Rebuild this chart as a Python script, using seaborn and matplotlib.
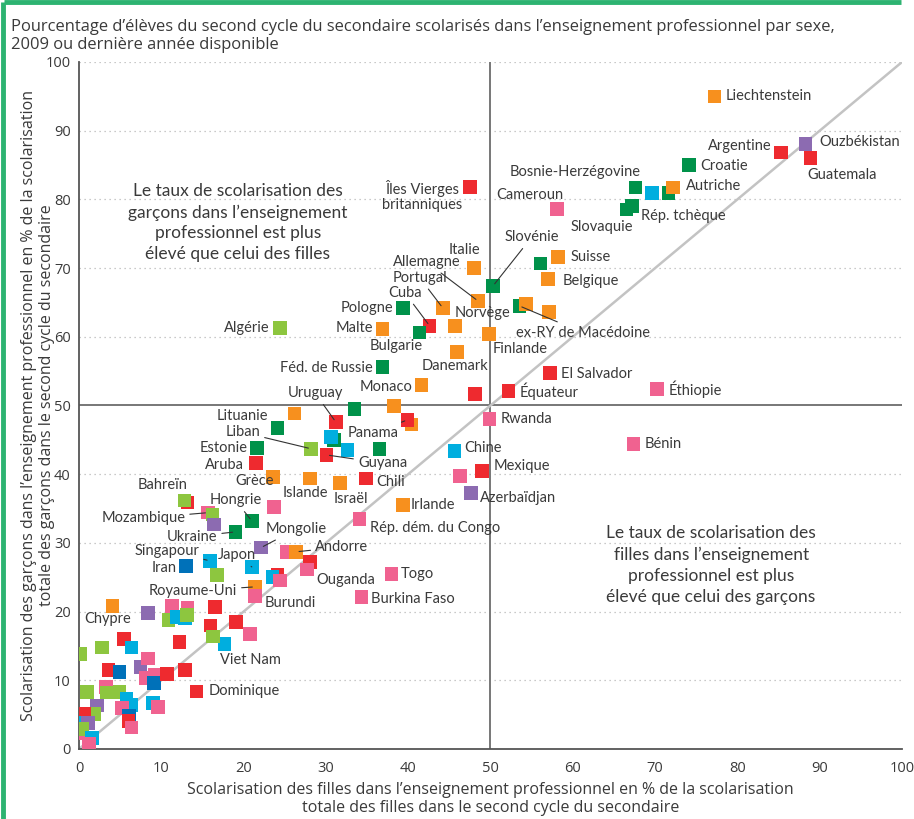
import matplotlib
matplotlib.use("Agg")
import matplotlib.pyplot as plt
import matplotlib.lines as mlines
import seaborn as sns
import pandas as pd

# ---------------- data ----------------
regions = ["Amérique latine et Caraïbes", "Amérique du Nord et Europe occidentale",
           "Europe centrale et orientale", "États arabes", "Asie de l'Est et Pacifique",
           "Asie du Sud et de l'Ouest", "Asie centrale", "Afrique subsaharienne"]
region_colors = ["#EE2A2F", "#F7901E", "#00924A", "#8DC63F", "#00AEDF", "#0071B9", "#8C6BB1", "#F06290"]
R, O, G, L, C, B, P, K = range(8)

countries = [
    "Liechtenstein", "Ouzbékistan", "Argentine", "Guatemala", "Croatie", "Bosnie-Herzégovine", "",
    "", "Autriche", "Slovaquie", "Rép. tchèque", "Cameroun", "Îles Vierges\nbritanniques", "Suisse", "",
    "Belgique", "Italie", "Slovénie", "Allemagne", "Portugal", "Cuba", "Pologne", "Malte", "Bulgarie", "",
    "Finlande", "Danemark", "Féd. de Russie", "Monaco", "", "Équateur", "El Salvador", "", "", "",
    "Uruguay", "Rwanda", "ex-RY de Macédoine", "Norvège", "", "Algérie", "Éthiopie", "Bénin",
    "", "Panama", "", "", "", "", "Liban", "Guyana", "Chili", "Islande", "Israël", "Irlande",
    "Rép. dém. du Congo", "Chine", "Mexique", "", "Azerbaïdjan", "Togo", "Burkina Faso",
    "", "Ouganda", "", "Andorre", "Lituanie", "Estonie", "Aruba", "Grèce", "", "Bahreïn", "Hongrie", "",
    "Mozambique", "", "", "Ukraine", "Mongolie", "Singapour", "Iran", "Japon", "", "", "", "",
    "Royaume-Uni", "Burundi", "Chypre",
    "", "", "", "", "", "", "", "", "", "", "", "Viet Nam", "", "", "", "", "", "", "",
    "", "", "", "", "", "", "", "", "Dominique", "", "", "", "", "", "", "", "", "", "", "",
    "", "", "", "", "", "", "", "", "", "",
]
girls = [
    77.2, 88.3, 85.3, 88.9, 74.1, 67.6, 69.6,
    71.6, 72.2, 66.5, 67.2, 58.1, 47.5, 58.2, 56.1,
    57.0, 48.0, 50.3, 48.5, 44.2, 42.6, 39.4, 36.9, 41.4, 45.7,
    49.8, 45.9, 36.9, 41.6, 48.1, 52.2, 57.2, 33.5, 38.3, 26.2,
    31.2, 49.9, 53.5, 54.3, 57.1, 24.4, 70.2, 67.4,
    40.4, 39.9, 31.0, 30.6, 32.6, 36.5, 28.2, 30.1, 34.9, 28.1, 31.7, 39.4,
    34.1, 45.6, 49.0, 46.3, 47.6, 38.0, 34.3,
    28.1, 27.7, 25.3, 26.4, 24.1, 21.6, 21.5, 23.6, 13.2, 12.8, 21.0, 23.7,
    15.7, 16.2, 16.4, 19.0, 22.1, 15.9, 13.0, 21.0, 16.8, 24.1, 23.5, 24.4,
    21.4, 21.4, 4.1,
    8.4, 11.3, 13.2, 10.9, 11.9, 12.9, 13.1, 16.5, 16.0, 19.1, 20.8, 17.7, 16.3, 12.2, 5.5, 6.4, 2.8, 0.2, 3.6,
    4.9, 7.5, 8.4, 9.2, 8.1, 9.1, 10.7, 12.9, 14.3, 1.0, 3.3, 3.4, 4.9, 5.8, 6.3, 5.2, 9.0, 9.6, 2.2, 1.8,
    6.1, 6.0, 6.4, 0.6, 0.5, 0.2, 1.1, 0.4, 1.6, 1.2,
]
boys = [
    95.0, 88.1, 86.8, 86.0, 85.0, 81.7, 80.9,
    80.9, 81.7, 78.5, 79.0, 78.6, 81.8, 71.6, 70.7,
    68.4, 70.0, 67.4, 65.2, 64.2, 61.6, 64.2, 61.1, 60.6, 61.6,
    60.4, 57.8, 55.6, 53.0, 51.7, 52.1, 54.7, 49.5, 49.9, 48.8,
    47.6, 48.0, 64.5, 64.8, 63.6, 61.3, 52.4, 44.4,
    47.2, 47.9, 45.0, 45.4, 43.5, 43.7, 43.7, 42.8, 39.4, 39.4, 38.7, 35.5,
    33.5, 43.4, 40.5, 39.7, 37.3, 25.5, 22.1,
    27.2, 26.1, 28.7, 28.7, 46.7, 43.8, 41.6, 39.6, 35.9, 36.2, 33.2, 35.2,
    34.4, 34.1, 32.7, 31.6, 29.3, 27.4, 26.6, 26.5, 25.3, 25.3, 25.0, 24.5,
    23.6, 22.3, 20.8,
    19.8, 20.8, 20.5, 18.8, 19.2, 19.1, 19.5, 20.7, 18.0, 18.5, 16.7, 15.3, 16.4, 15.6, 16.0, 14.8, 14.8, 13.8, 11.5,
    11.2, 11.9, 13.2, 10.8, 10.3, 9.6, 10.9, 11.5, 8.4, 8.3, 9.0, 8.2, 8.3, 7.3, 6.4, 6.0, 6.7, 6.1, 6.3, 5.1,
    4.9, 4.1, 3.1, 5.1, 3.8, 2.3, 3.8, 2.9, 1.6, 0.7,
]
region_idx = [
    O, P, R, R, G, G, C,
    G, O, G, G, K, R, O, G,
    O, O, G, O, O, R, G, O, G, O,
    O, O, G, O, R, R, R, G, O, O,
    R, K, G, O, O, L, K, K,
    O, R, G, C, C, G, L, R, R, O, O, O,
    K, C, R, K, P, K, K,
    R, K, K, O, G, G, R, O, R, L, G, K,
    K, L, P, G, P, C, B, C, L, R, C, K,
    O, K, O,
    P, K, K, L, C, C, L, R, R, R, K, C, L, R, R, C, L, L, R,
    B, P, K, K, K, B, R, R, R, L, K, L, L, C, C, K, C, K, P, L,
    B, R, K, R, C, K, P, L, C, K,
]
assert len(countries) == len(girls) == len(boys) == len(region_idx)

df = pd.DataFrame({"pays": countries, "filles": girls, "garcons": boys,
                   "region": [regions[i] for i in region_idx]})
palette = dict(zip(regions, region_colors))

# ---------------- layout for labels (text positions in data units) ----------------
label_layout = {
    "Liechtenstein": (78.6, 95.0, "left", False),
    "Ouzbékistan": (89.9, 88.4, "left", False),
    "Argentine": (84.2, 87.8, "right", False),
    "Guatemala": (88.5, 83.6, "left", False),
    "Croatie": (75.5, 84.9, "left", False),
    "Bosnie-Herzégovine": (68.2, 84.0, "right", False),
    "Autriche": (73.8, 82.0, "left", False),
    "Rép. tchèque": (68.3, 77.6, "left", False),
    "Slovaquie": (67.3, 76.0, "right", False),
    "Cameroun": (58.8, 80.6, "right", False),
    "Îles Vierges\nbritanniques": (41.7, 80.5, "center", False),
    "Suisse": (59.7, 71.6, "left", False),
    "Belgique": (58.8, 68.1, "left", False),
    "Slovénie": (55.0, 74.5, "center", True),
    "Italie": (46.8, 72.6, "center", False),
    "Allemagne": (42.2, 70.9, "center", True),
    "Portugal": (41.4, 68.6, "center", True),
    "Cuba": (39.6, 66.4, "center", True),
    "Pologne": (38.2, 64.2, "right", False),
    "Malte": (35.8, 61.3, "right", False),
    "Bulgarie": (38.5, 58.7, "center", False),
    "Norvège": (49.0, 63.5, "center", False),
    "ex-RY de Macédoine": (53.1, 60.6, "left", True),
    "Finlande": (50.3, 58.2, "left", False),
    "Danemark": (41.6, 55.7, "left", False),
    "Féd. de Russie": (35.7, 55.5, "right", False),
    "Monaco": (40.5, 52.7, "right", False),
    "Uruguay": (28.7, 51.8, "center", True),
    "Équateur": (53.5, 52.0, "left", False),
    "El Salvador": (58.6, 54.6, "left", False),
    "Algérie": (23.2, 61.3, "right", False),
    "Éthiopie": (71.6, 52.3, "left", False),
    "Rwanda": (51.2, 48.0, "left", False),
    "Bénin": (68.7, 44.4, "left", False),
    "Chine": (46.8, 43.8, "left", False),
    "Mexique": (50.4, 41.2, "left", False),
    "Azerbaïdjan": (48.7, 36.5, "left", False),
    "Irlande": (40.3, 35.5, "left", False),
    "Rép. dém. du Congo": (35.4, 32.2, "left", False),
    "Togo": (39.1, 25.5, "left", False),
    "Burkina Faso": (35.5, 21.8, "left", False),
    "Ouganda": (28.8, 24.6, "left", False),
    "Burundi": (22.5, 21.3, "left", False),
    "Andorre": (28.7, 29.4, "left", True),
    "Panama": (32.7, 46.0, "left", True),
    "Guyana": (33.9, 41.6, "left", True),
    "Chili": (36.1, 38.9, "left", False),
    "Israël": (33.0, 36.4, "center", False),
    "Islande": (27.5, 37.3, "center", False),
    "Grèce": (21.3, 39.0, "center", False),
    "Lituanie": (23.0, 48.5, "right", False),
    "Liban": (22.0, 46.1, "right", True),
    "Estonie": (20.5, 43.8, "right", False),
    "Aruba": (20.0, 41.3, "right", False),
    "Bahreïn": (10.1, 38.4, "center", False),
    "Hongrie": (19.0, 36.2, "center", True),
    "Mozambique": (12.9, 33.6, "right", True),
    "Ukraine": (16.8, 30.9, "right", True),
    "Mongolie": (26.4, 32.0, "center", True),
    "Singapour": (14.6, 28.8, "right", True),
    "Japon": (19.2, 28.2, "center", True),
    "Iran": (11.9, 26.3, "right", False),
    "Royaume-Uni": (19.2, 23.0, "right", True),
    "Chypre": (3.5, 18.9, "center", False),
    "Viet Nam": (20.8, 13.0, "center", False),
    "Dominique": (15.7, 8.4, "left", False),
}

# ---------------- styling ----------------
sns.set_theme(style="white")
LABEL_FONT = ["Lato", "DejaVu Sans"]
COND_FONT = ["Liberation Sans Narrow", "Open Sans", "DejaVu Sans"]
plt.rcParams["font.family"] = LABEL_FONT
TXT = "#3a3a3a"

fig = plt.figure(figsize=(9.14, 8.19), dpi=100)
ax = fig.add_axes([0.0864, 0.0855, 0.9005, 0.8388])

fig.add_artist(mlines.Line2D([0.004, 0.986], [0.998, 0.998], transform=fig.transFigure,
                             color="#2DB371", lw=3.5, solid_capstyle="butt"))
fig.add_artist(mlines.Line2D([0.0035, 0.0035], [0.0, 0.998], transform=fig.transFigure,
                             color="#2DB371", lw=3.5, solid_capstyle="butt"))

for yv in range(10, 101, 10):
    if yv != 50:
        ax.axhline(yv, color="#b8b8b8", lw=0.9, ls=(0, (1, 3)), zorder=0)
ax.axhline(50, color="#777777", lw=1.4, zorder=1)
ax.axvline(50, color="#777777", lw=1.4, zorder=1)
ax.plot([0, 100], [0, 100], color="#c3c3c3", lw=1.8, zorder=1)

sns.scatterplot(data=df, x="filles", y="garcons", hue="region", palette=palette,
                marker="s", s=95, linewidth=0, legend=False, ax=ax, zorder=3)

lookup = {n: (x, y) for n, x, y in zip(countries, girls, boys) if n}
for name, (lx, ly, ha, leader) in label_layout.items():
    px, py = lookup[name]
    if leader:
        ax.annotate(name, xy=(px, py), xytext=(lx, ly), ha=ha, va="center",
                    fontsize=10.5, color=TXT, zorder=4,
                    arrowprops=dict(arrowstyle="-", color="#333333", lw=0.8,
                                    shrinkA=1, shrinkB=2))
    else:
        ax.text(lx, ly, name, ha=ha, va="center", fontsize=10.5, color=TXT, zorder=4,
                linespacing=1.05)

ax.text(19.3, 76.6, "Le taux de scolarisation des\ngarçons dans l’enseignement\nprofessionnel est plus\nélevé que celui des filles",
        ha="center", va="center", fontsize=12.5, color=TXT, linespacing=1.38)
ax.text(76.8, 26.8, "Le taux de scolarisation des\nfilles dans l’enseignement\nprofessionnel est plus\nélevé que celui des garçons",
        ha="center", va="center", fontsize=12.5, color=TXT, linespacing=1.38)

ax.set_xlim(0, 100)
ax.set_ylim(0, 100)
ax.set_xticks(range(0, 101, 10))
ax.set_yticks(range(0, 101, 10))
for side in ["top", "right"]:
    ax.spines[side].set_visible(False)
for side in ["left", "bottom"]:
    ax.spines[side].set_color("#555555")
    ax.spines[side].set_linewidth(1.3)
ax.tick_params(axis="x", direction="out", length=6, width=1, color="#555555",
               labelsize=10.5, labelcolor=TXT, pad=3)
ax.tick_params(axis="y", length=0, labelsize=10.5, labelcolor=TXT, pad=6)
for lab in ax.get_xticklabels() + ax.get_yticklabels():
    lab.set_family(COND_FONT)

ax.set_xlabel("Scolarisation des filles dans l’enseignement professionnel en % de la scolarisation\ntotale des filles dans le second cycle du secondaire",
              fontsize=11.5, color=TXT, family=COND_FONT, labelpad=4, linespacing=1.15)
ax.set_ylabel("Scolarisation des garçons dans l’enseignement professionnel en % de la scolarisation\ntotale des garçons dans le second cycle du secondaire",
              fontsize=11.5, color=TXT, family=COND_FONT, linespacing=1.15)
ax.yaxis.set_label_coords(-0.029, 0.5)

fig.text(0.012, 0.977, "Pourcentage d’élèves du second cycle du secondaire scolarisés dans l’enseignement professionnel par sexe,\n2009 ou dernière année disponible",
         ha="left", va="top", fontsize=11.9, color=TXT, family=COND_FONT, linespacing=1.2)

fig.savefig("out.png", dpi=100)
